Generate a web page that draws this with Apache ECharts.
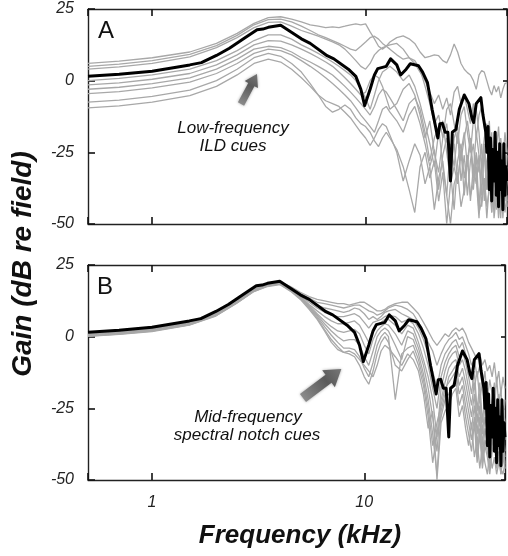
<!DOCTYPE html>
<html><head><meta charset="utf-8">
<script src="https://cdn.jsdelivr.net/npm/echarts@6/dist/echarts.min.js"></script>
<style>html,body{margin:0;padding:0;background:#fff}#c{width:508px;height:556px}</style>
</head><body><div id="c"></div>
<script>
// ---------- DATA ----------
const freqGrid = [0.5, 0.7, 1, 1.5, 2, 2.5, 3, 3.5, 4, 4.5, 5, 5.5, 6, 6.5, 7, 7.5, 8, 8.5, 9, 9.5, 10, 10.5, 11, 11.5, 12, 12.5, 13, 14, 15, 16, 17, 18, 19, 20, 21, 22, 23, 24, 25, 26, 27, 28, 29, 30, 31, 32, 33, 34, 35, 36, 37, 38, 39, 40, 41, 42, 43, 44, 45, 46];

const blackFreq = [0.5, 0.7, 1, 1.5, 1.7, 2, 2.3, 2.7, 3.1, 3.3, 3.5, 4, 4.4, 5, 5.5, 6.6, 7.1, 8.3, 9, 9.5, 9.9, 10.5, 11, 11.4, 12.5, 13.1, 14, 14.6, 15.5, 16.2, 17.7, 18.5, 19.5, 20.5, 21.8, 22.3, 22.9, 23.6, 24.3, 25, 25.5, 26.5, 27.5, 29, 29.5, 30.5, 31.5, 32.1, 33, 34.7, 35.5, 36.6, 37, 37.5, 38, 38.5, 39, 39.5, 40, 40.5, 41, 41.5, 42, 42.5, 43, 43.5, 44, 44.5, 45, 45.5, 46];
const blackGain = [1.5, 2.2, 3.3, 5.5, 6.3, 8.8, 11.3, 14.8, 17.8, 18, 18.6, 19.3, 17.3, 14.6, 13, 8.7, 7.6, 4, 1.5, -3, -8.7, -3, 2, 4.2, 5, 7.6, 5.5, 2, 4, 5.9, 5.2, 3, -0.7, -10, -20, -15, -14.9, -18, -18, -35, -18, -17, -10, -5, -4.5, -8, -13, -14.6, -8, -5.9, -12, -18, -25, -16, -38, -20, -42, -24, -35, -18, -40, -25, -44, -22, -38, -28, -45, -22, -40, -30, -35];

// Panel A: individual directions (gray)
const grayA1 = [6, 6.8, 8, 10, 13, 16.5, 20, 22, 22.3, 21.5, 20.5, 19.5, 19, 18.5, 18.8, 18.5, 19, 19.5, 19.8, 19.5, 19.8, 17, 14.6, 12, 11, 12, 13.5, 15, 15.6, 14.6, 13, 10, 8, 8.5, 9, 8.7, 7, 6.2, 9, 12.8, 10, 6, 4, 2.8, 2, 0, -3, 2, 3.5, 3, 0, -3, -5, -1.7, -4, -2, -6, -3, -1, -0.7];
const grayA2 = [5, 5.8, 7, 9.2, 12.2, 15.8, 19.5, 21.3, 21.5, 20.5, 19, 17.5, 16, 15, 14, 13, 12, 11, 10.5, 12, 13.5, 15, 15.5, 14.5, 13, 12, 12.5, 13, 11, 8, 6, 3, 0, -4, -8, -5, -10, -6, -12, -4, -2, -8, -5, -10, -15, -8, -20, -12, -9, -16, -25, -14, -30, -18, -22, -35, -20, -28, -18, -25];
const grayA3 = [4, 4.8, 6, 8.3, 11.5, 15, 18.5, 20.3, 20.5, 19, 17.5, 16.5, 15.5, 14.5, 13.5, 12.5, 11, 9, 7, 5, 4, 6, 9, 10.5, 11.5, 12, 11, 9, 7.5, 8, 7, 4, -2, -8, -15, -12, -20, -10, -8, -15, -22, -12, -9, -18, -25, -14, -10, -18, -30, -20, -15, -28, -18, -35, -24, -16, -30, -22, -38, -26];
const grayA4 = [0, 0.8, 2, 4, 7, 10.5, 14, 16, 16, 14.5, 12.5, 11, 9.5, 8, 6.5, 5, 3.5, 2, 0, -3, -6, -10, -5, 0, 3, 4, 5, 3, 0, 2, -2, -8, -15, -22, -30, -18, -14, -25, -35, -20, -16, -28, -20, -14, -22, -32, -18, -26, -40, -24, -30, -20, -36, -28, -45, -30, -24, -40, -32, -44];
const grayA5 = [-1.5, -0.8, 0.5, 2.5, 5.5, 9, 12.5, 14, 13.8, 12.5, 11, 9.5, 8, 6.5, 5, 3, 1, -1, -3, -5, -4, 0, 2, 1, -2, -6, -10, -8, -3, -1, -5, -12, -20, -14, -25, -32, -20, -15, -28, -22, -35, -25, -18, -30, -20, -38, -25, -32, -22, -42, -28, -35, -25, -45, -30, -38, -48, -30, -42, -35];
const grayA6 = [-3, -2.3, -1, 1, 4, 7.5, 11, 12, 11.5, 10, 8, 6.5, 5, 3.5, 2, 0, -2, -4, -6, -8, -10, -12, -9, -5, -3, -4, -6, -10, -14, -8, -6, -10, -18, -28, -20, -16, -30, -40, -22, -30, -18, -35, -26, -40, -28, -22, -34, -48, -30, -26, -38, -30, -46, -34, -28, -42, -32, -48, -36, -30];
const grayA7 = [-4.5, -3.8, -2.5, -0.5, 2.5, 6, 9.5, 11, 10.5, 9, 7, 5, 3, 1, -1, -3, -5, -7, -9.5, -12, -14, -16, -18, -14, -10, -9, -11, -14, -18, -12, -9, -15, -22, -30, -24, -38, -26, -20, -32, -45, -28, -22, -34, -26, -42, -30, -36, -26, -44, -34, -48, -36, -30, -42, -36, -48, -38, -34, -46, -40];
const grayA8 = [-7.5, -6.8, -5.5, -3.3, 0, 4, 8, 9.5, 8.5, 6, 3, -1, -5, -9, -11, -10, -8.5, -10, -13, -15, -16, -18, -21, -23, -20, -18, -20, -24, -30, -38, -46, -30, -25, -34, -28, -42, -32, -50, -36, -30, -36, -24, -40, -28, -20, -34, -26, -44, -30, -22, -38, -28, -46, -32, -26, -40, -30, -24, -36, -42];
const grayA9 = [-9.5, -8.8, -7.5, -5.2, -2, 2, 6, 7.5, 6.5, 4, 1, -2, -5, -7, -8, -9, -11, -13, -15.6, -18, -20, -22.6, -20, -17, -15, -16, -19, -25, -35, -28, -22, -26, -36, -30, -45, -34, -28, -40, -50, -36, -32, -44, -38, -26, -40, -36, -30, -46, -42, -34, -44, -38, -28, -48, -40, -32, -46, -38, -30, -44];

// Panel B: individual directions (gray)
const grayB1 = [1.2, 2.0, 3.0, 5.2, 8.5, 13, 17, 18.6, 19.2, 17.5, 15.5, 14, 13, 12.5, 12, 11.5, 11.5, 11, 11.5, 12, 12, 11, 10, 9, 9, 9.5, 10.5, 11.5, 12, 12, 10, 8, 5, 2, -1, -3, -1, 1, 0, 2, 3, 2, 3, 1, -2, -4, -6, -8, -6, -10, -8, -12, -10, -14, -9, -16, -12, -20, -14, -18];
const grayB2 = [1.0, 1.8, 2.8, 5.0, 8.3, 12.8, 16.8, 18.4, 19.0, 17.2, 15, 13.5, 12, 11.5, 11, 10.5, 10, 10.5, 11, 11, 10, 9, 8.5, 7.5, 8, 9, 10, 11, 10.5, 9.5, 8, 5, 2, -2, -5, -10, -6, -3, -1, 0, 1.5, -1, 0, -3, -6, -10, -8, -14, -10, -18, -12, -22, -15, -20, -26, -14, -24, -18, -30, -22];
const grayB3 = [0.9, 1.6, 2.7, 4.9, 8.1, 12.6, 16.6, 18.3, 18.9, 17, 14.6, 12.8, 11, 10, 9.5, 9, 8.5, 9, 10, 9.5, 8, 6, 7, 6, 7, 8.5, 9, 9.5, 8, 7, 6, 3, -1, -6, -12, -18, -10, -6, -4, -2, -1, -4, -2, -6, -10, -14, -18, -12, -22, -16, -26, -18, -30, -22, -16, -28, -20, -34, -24, -30];
const grayB4 = [0.8, 1.5, 2.5, 4.7, 7.9, 12.4, 16.4, 18.2, 18.8, 16.8, 14.2, 12, 10, 8.5, 7.5, 7, 7, 7.5, 8, 7, 5, 3, 5, 5.5, 6, 7, 7.5, 7, 5, 6, 4.5, 1, -4, -10, -18, -25, -14, -9, -6, -4, -3, -7, -5, -9, -14, -20, -12, -26, -16, -30, -20, -24, -36, -26, -20, -34, -24, -38, -28, -36];
const grayB5 = [0.6, 1.3, 2.3, 4.5, 7.7, 12.2, 16.2, 18, 18.7, 16.6, 14, 11.2, 9, 7, 5.5, 4.5, 4.5, 5, 5.5, 4, 1, -2, 2, 4, 5, 6, 6, 4, 1, 4, 3, -2, -8, -14, -22, -35, -18, -12, -8, -6, -5, -10, -8, -12, -18, -24, -16, -30, -20, -34, -24, -30, -40, -28, -24, -38, -28, -42, -32, -40];
const grayB6 = [0.5, 1.2, 2.2, 4.4, 7.6, 12, 16, 17.9, 18.6, 16.4, 13.8, 10.8, 8, 5.5, 3.5, 2, 1.5, 2, 2.5, 1, -3, -6, -1, 2, 3.5, 4.5, 4, 1, -3, 2, 1, -4, -10, -18, -28, -40, -22, -16, -11, -9, -8, -14, -11, -16, -22, -28, -20, -34, -24, -38, -28, -34, -42, -32, -28, -40, -32, -44, -36, -42];
const grayB7 = [0.4, 1.1, 2.1, 4.3, 7.5, 11.9, 15.9, 17.8, 18.5, 16.3, 13.6, 10.5, 7.5, 4.5, 2, 0, -1.5, -1, -1, -3, -7, -10, -5, 0, 2, 3, 2, -3, -8, 0, -1, -6, -13, -22, -34, -48, -26, -20, -14, -12, -10, -17, -14, -20, -26, -32, -24, -38, -28, -42, -32, -38, -44, -36, -30, -42, -36, -46, -38, -44];
const grayB8 = [0.3, 1.0, 2.0, 4.2, 7.4, 11.8, 15.8, 17.7, 18.4, 16.2, 13.4, 10.2, 7, 3.5, 0.5, -2, -4, -4, -4.5, -7, -11, -14, -9, -3, 0, 1.5, 0, -22, -6, -4, -3, -8, -15, -25, -38, -30, -24, -18, -16, -14, -12, -20, -17, -24, -30, -36, -28, -42, -32, -44, -36, -40, -46, -38, -34, -44, -40, -48, -40, -46];
const grayB9 = [0.2, 0.9, 1.9, 4.1, 7.3, 11.7, 15.7, 17.6, 18.3, 16, 13.2, 10, 6.5, 2.5, -1, -3.5, -5.5, -6, -7, -10, -14, -16.6, -12, -6, -2, 0, -2, -10, -12, -8, -5, -10, -17, -28, -44, -34, -28, -22, -20, -17, -15, -24, -20, -28, -34, -40, -30, -44, -34, -46, -38, -42, -48, -40, -36, -46, -42, -48, -42, -46];
const grayB10 = [0.1, 0.8, 1.8, 4.0, 7.2, 11.6, 15.6, 17.5, 18.2, 15.8, 13, 9.5, 6, 2, -2, -4.5, -5.5, -5, -6, -8, -10, -12, -14, -10, -5, -3, -4, -7, -10, -6, -8, -12, -20, -32, -26, -50, -30, -26, -24, -20, -18, -28, -24, -32, -38, -30, -42, -36, -46, -38, -44, -48, -40, -46, -42, -48, -44, -46, -48, -44];

const xTickLabels = [1, 10];
const yRange = [-50, 25];
const yStep = 25;
const xRange = [0.5, 46];

// ---------- CHART ----------
const grayA = [grayA1, grayA2, grayA3, grayA4, grayA5, grayA6, grayA7, grayA8, grayA9];
const grayB = [grayB1, grayB2, grayB3, grayB4, grayB5, grayB6, grayB7, grayB8, grayB9, grayB10];
const FONT = '"Liberation Sans", Arial, sans-serif';
const AX = '#222';
const TICK = '#111';
const GRAY = '#a8a8a8';
const pairs = (f, v) => f.map((x, i) => [x, v[i]]);

function xAx(grid, pos, labels) {
  return {
    type: 'log', logBase: 10, gridIndex: grid, position: pos,
    min: xRange[0], max: xRange[1],
    axisLine: { show: true, onZero: false, lineStyle: { color: AX, width: 1.4 } },
    axisTick: { show: true, inside: true, length: 7, lineStyle: { color: TICK, width: 1.6 } },
    axisLabel: {
      show: labels, margin: 15, fontStyle: 'italic', fontSize: 16, color: AX, fontFamily: FONT,
      formatter: v => { const r = Math.round(v * 1000) / 1000; return xTickLabels.includes(r) ? String(r) : ''; }
    },
    splitLine: { show: false }
  };
}
function yAx(grid, pos, labels) {
  return {
    type: 'value', gridIndex: grid, position: pos,
    min: yRange[0], max: yRange[1], interval: yStep,
    axisLine: { show: true, onZero: false, lineStyle: { color: AX, width: 1.4 } },
    axisTick: { show: true, inside: true, length: pos === 'left' ? 7 : 4, lineStyle: { color: TICK, width: 1.6 } },
    axisLabel: { show: labels, margin: 14, fontStyle: 'italic', fontSize: 16, color: AX, fontFamily: FONT },
    splitLine: { show: false }
  };
}

const series = [];
function addPanel(grays, xi, yi) {
  grays.forEach(g => series.push({
    type: 'line', xAxisIndex: xi, yAxisIndex: yi, data: pairs(freqGrid, g),
    symbol: 'none', showSymbol: false, silent: true, z: 2,
    lineStyle: { color: GRAY, width: 1.3 }
  }));
  series.push({
    type: 'line', xAxisIndex: xi, yAxisIndex: yi, data: pairs(blackFreq, blackGain),
    symbol: 'none', showSymbol: false, silent: true, z: 3,
    lineStyle: { color: '#000', width: 3, join: 'round' }
  });
}
addPanel(grayA, 0, 0);
addPanel(grayB, 2, 2);

function arrow(x, y, angleDeg, len, shaftW, headW, headL) {
  const s = shaftW / 2, h = headW / 2, b = len - headL;
  return {
    type: 'polygon', x: x, y: y, rotation: angleDeg * Math.PI / 180, z: 10,
    shape: { points: [[0, -s], [b, -s], [b, -h], [len, 0], [b, h], [b, s], [0, s]] },
    style: {
      fill: new echarts.graphic.LinearGradient(0, 0, 1, 0, [
        { offset: 0, color: '#8a8a8a' }, { offset: 0.6, color: '#5a5a5a' }, { offset: 1, color: '#777' }
      ]),
      shadowBlur: 3, shadowColor: 'rgba(0,0,0,0.35)'
    }
  };
}
function txt(x, y, s, font, extra) {
  return Object.assign({
    type: 'text', x: x, y: y, z: 10,
    style: { text: s, font: font, fill: '#111', textAlign: 'center', textVerticalAlign: 'middle' }
  }, extra || {});
}

const option = {
  animation: false,
  backgroundColor: '#fff',
  grid: [
    { left: 88, top: 9, width: 419, height: 215 },
    { left: 88, top: 265, width: 419, height: 215 }
  ],
  xAxis: [xAx(0, 'bottom', false), xAx(0, 'top', false), xAx(1, 'bottom', true), xAx(1, 'top', false)],
  yAxis: [yAx(0, 'left', true), yAx(0, 'right', false), yAx(1, 'left', true), yAx(1, 'right', false)],
  series: series,
  graphic: [
    txt(106, 31, 'A', '24px ' + FONT),
    txt(105, 287, 'B', '24px ' + FONT),
    txt(233, 128, 'Low-frequency', 'italic 17px ' + FONT),
    txt(233, 146, 'ILD cues', 'italic 17px ' + FONT),
    txt(248, 417, 'Mid-frequency', 'italic 17px ' + FONT),
    txt(247, 435, 'spectral notch cues', 'italic 17px ' + FONT),
    txt(300, 536, 'Frequency (kHz)', 'italic bold 26px ' + FONT),
    txt(23, 264, 'Gain (dB re field)', 'italic bold 28px ' + FONT, { rotation: Math.PI / 2 }),
    arrow(241, 104, 62, 34, 7, 15, 12),
    arrow(303, 398, 37, 48, 10, 21, 16)
  ]
};
const chart = echarts.init(document.getElementById('c'), null, { renderer: 'canvas' });
chart.setOption(option);
</script>
</body></html>
